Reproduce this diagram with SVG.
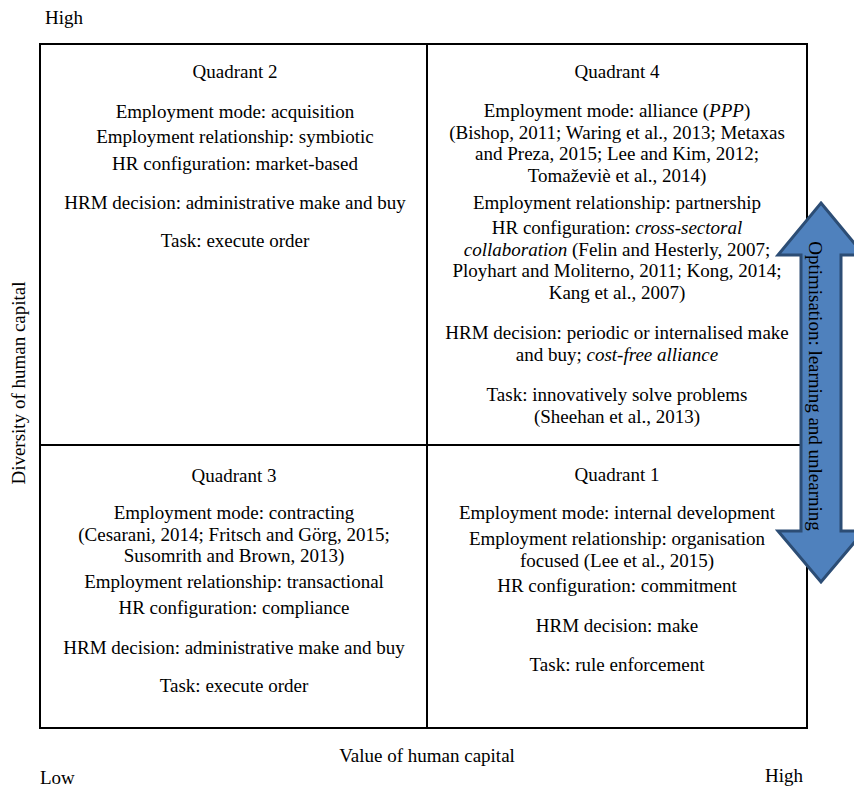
<svg xmlns="http://www.w3.org/2000/svg" width="854" height="787" viewBox="0 0 854 787">
<style>
text{font-family:"Liberation Serif","Times New Roman",serif;font-size:19px;fill:#000}
.c{text-anchor:middle}
.i{font-style:italic}
.frame{fill:none;stroke:#000;stroke-width:2}
.arrow{fill:#4f81bd;stroke:#2c4d75;stroke-width:3;stroke-linejoin:miter}
</style>
<rect width="854" height="787" fill="#fff"/>
<g id="frame">
<rect class="frame" x="40" y="44" width="767" height="684"/>
<line class="frame" x1="427" y1="44" x2="427" y2="728"/>
<line class="frame" x1="40" y1="445" x2="807" y2="445"/>
</g>
<g id="axes">
<text x="45" y="24">High</text>
<text x="40" y="784">Low</text>
<text x="803" y="782" text-anchor="end">High</text>
<text class="c" x="427" y="762">Value of human capital</text>
<text class="c" transform="translate(25,383) rotate(-90)">Diversity of human capital</text>
</g>
<g id="quadrant2">
<text class="c" x="235" y="78">Quadrant 2</text>
<text class="c" x="235" y="118">Employment mode: acquisition</text>
<text class="c" x="235" y="143">Employment relationship: symbiotic</text>
<text class="c" x="235" y="170">HR configuration: market-based</text>
<text class="c" x="235" y="209">HRM decision: administrative make and buy</text>
<text class="c" x="235" y="247">Task: execute order</text>
</g>
<g id="quadrant4">
<text class="c" x="617" y="78">Quadrant 4</text>
<text class="c" x="617" y="117">Employment mode: alliance (<tspan class="i">PPP</tspan>)</text>
<text class="c" x="617" y="138.6">(Bishop, 2011; Waring et al., 2013; Metaxas</text>
<text class="c" x="617" y="160.2">and Preza, 2015; Lee and Kim, 2012;</text>
<text class="c" x="617" y="181.8">Tomaževiè et al., 2014)</text>
<text class="c" x="617" y="209">Employment relationship: partnership</text>
<text class="c" x="617" y="234">HR configuration: <tspan class="i">cross-sectoral</tspan></text>
<text class="c" x="617" y="255.6"><tspan class="i">collaboration</tspan> (Felin and Hesterly, 2007;</text>
<text class="c" x="617" y="277.2">Ployhart and Moliterno, 2011; Kong, 2014;</text>
<text class="c" x="617" y="298.8">Kang et al., 2007)</text>
<text class="c" x="617" y="339">HRM decision: periodic or internalised make</text>
<text class="c" x="617" y="360.6">and buy; <tspan class="i">cost-free alliance</tspan></text>
<text class="c" x="617" y="401">Task: innovatively solve problems</text>
<text class="c" x="617" y="422.6">(Sheehan et al., 2013)</text>
</g>
<g id="quadrant3">
<text class="c" x="234" y="482">Quadrant 3</text>
<text class="c" x="234" y="519">Employment mode: contracting</text>
<text class="c" x="234" y="541">(Cesarani, 2014; Fritsch and Görg, 2015;</text>
<text class="c" x="234" y="562">Susomrith and Brown, 2013)</text>
<text class="c" x="234" y="588">Employment relationship: transactional</text>
<text class="c" x="234" y="614">HR configuration: compliance</text>
<text class="c" x="234" y="654">HRM decision: administrative make and buy</text>
<text class="c" x="234" y="692">Task: execute order</text>
</g>
<g id="quadrant1">
<text class="c" x="617" y="481">Quadrant 1</text>
<text class="c" x="617" y="519">Employment mode: internal development</text>
<text class="c" x="617" y="545">Employment relationship: organisation</text>
<text class="c" x="617" y="566.6">focused (Lee et al., 2015)</text>
<text class="c" x="617" y="592">HR configuration: commitment</text>
<text class="c" x="617" y="632">HRM decision: make</text>
<text class="c" x="617" y="671">Task: rule enforcement</text>
</g>
<g id="connectors">
<g id="optimisation-arrow">
<polygon class="arrow" points="821,203 864,255 841,255 841,531 864,531 821,582 778,531 801,531 801,255 778,255"/>
<text class="c" transform="translate(809,386) rotate(90)">Optimisation: learning and unlearning</text>
</g>
</g>
</svg>
